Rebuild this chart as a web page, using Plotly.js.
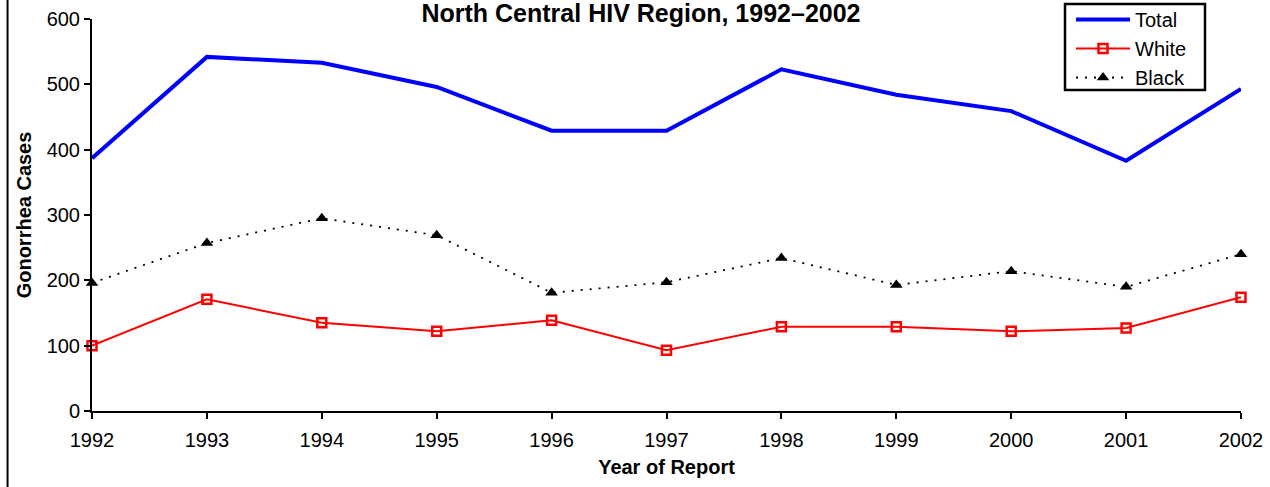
<!DOCTYPE html>
<html>
<head>
<meta charset="utf-8">
<script src="https://cdn.plot.ly/plotly-3.0.1.min.js"></script>
<style>
html,body{margin:0;padding:0;background:#fff;}
#chart{width:1270px;height:487px;}
</style>
</head>
<body>
<div id="chart"></div>
<script>
var years = [1992, 1993, 1994, 1995, 1996, 1997, 1998, 1999, 2000, 2001, 2002];
var totalCases = [387, 542, 533, 496, 429, 429, 523, 484, 459, 383, 493];
var whiteCases = [100, 171, 135, 122, 139, 93, 129, 129, 122, 127, 174];
var blackCases = [196, 257, 295, 269, 181, 197, 234, 193, 214, 190, 240];
var yTicks = [0, 100, 200, 300, 400, 500, 600];

var traces = [
  {x: years, y: totalCases, name: 'Total', type: 'scatter', mode: 'lines',
   line: {color: '#0000FF', width: 4}, cliponaxis: false},
  {x: years, y: whiteCases, name: 'White', type: 'scatter', mode: 'lines+markers',
   line: {color: '#FF0000', width: 2},
   marker: {symbol: 'square-open', size: 9, color: '#FF0000', line: {color: '#FF0000', width: 2.5}},
   cliponaxis: false},
  {x: years, y: blackCases, name: 'Black', type: 'scatter', mode: 'lines+markers',
   line: {color: '#000000', width: 1.8, dash: '2px,7px'},
   marker: {symbol: 'triangle-up', size: 11, color: '#000000'},
   cliponaxis: false}
];

// plot area in pixels: x 92..1241, y 19..411
function px2x(p) { return (p - 92) / 1149; }
function px2y(p) { return (411 - p) / 392; }

var layout = {
  width: 1270, height: 487,
  margin: {l: 92, r: 29, t: 19, b: 76, autoexpand: false},
  paper_bgcolor: '#fff', plot_bgcolor: 'rgba(0,0,0,0)',
  font: {family: 'Liberation Sans, Arial, sans-serif', size: 20, color: '#000'},
  title: {text: '<b>North Central HIV Region, 1992\u20132002</b>', x: 641 / 1270, xref: 'container', xanchor: 'center',
          y: 1 - 13 / 487, yref: 'container', yanchor: 'middle',
          font: {size: 25, family: 'Liberation Sans, Arial, sans-serif', color: '#000'}},
  xaxis: {
    range: [1992, 2002], tickvals: years, ticktext: years.map(String),
    showgrid: false, zeroline: false, showline: true, linecolor: '#000', linewidth: 2,
    ticks: 'outside', ticklen: 6, tickwidth: 2, tickcolor: '#000', ticklabelstandoff: 4,
    tickfont: {size: 20}, fixedrange: true, automargin: false,
    title: {text: '<b>Year of Report</b>', font: {size: 20}, standoff: 10}
  },
  yaxis: {
    range: [0, 600], tickvals: yTicks,
    showgrid: false, zeroline: false, showline: true, linecolor: '#000', linewidth: 2,
    ticks: 'outside', ticklen: 6, tickwidth: 2, tickcolor: '#000',
    tickfont: {size: 20}, fixedrange: true, automargin: false,
    title: {text: '<b>Gonorrhea Cases</b>', font: {size: 20}, standoff: 10}
  },
  legend: {
    x: 1071 / 1270, xref: 'container', xanchor: 'left', y: 1 + 8 / 487, yref: 'container', yanchor: 'top',
    borderwidth: 0, bgcolor: 'rgba(0,0,0,0)',
    font: {size: 20}, tracegroupgap: 0, itemwidth: 54
  },
  showlegend: true,
  shapes: [
    {type: 'line', xref: 'paper', yref: 'paper', x0: -0.0735, x1: -0.0735, y0: -0.2, y1: 1.1,
     line: {color: '#000', width: 2}},
    {type: 'rect', xref: 'paper', yref: 'paper', layer: 'below',
     x0: px2x(1065), x1: px2x(1205), y0: px2y(4), y1: px2y(90),
     fillcolor: '#fff', line: {color: '#000', width: 2.5}}
  ]
};

Plotly.newPlot('chart', traces, layout, {displayModeBar: false, staticPlot: true});
</script>
</body>
</html>
